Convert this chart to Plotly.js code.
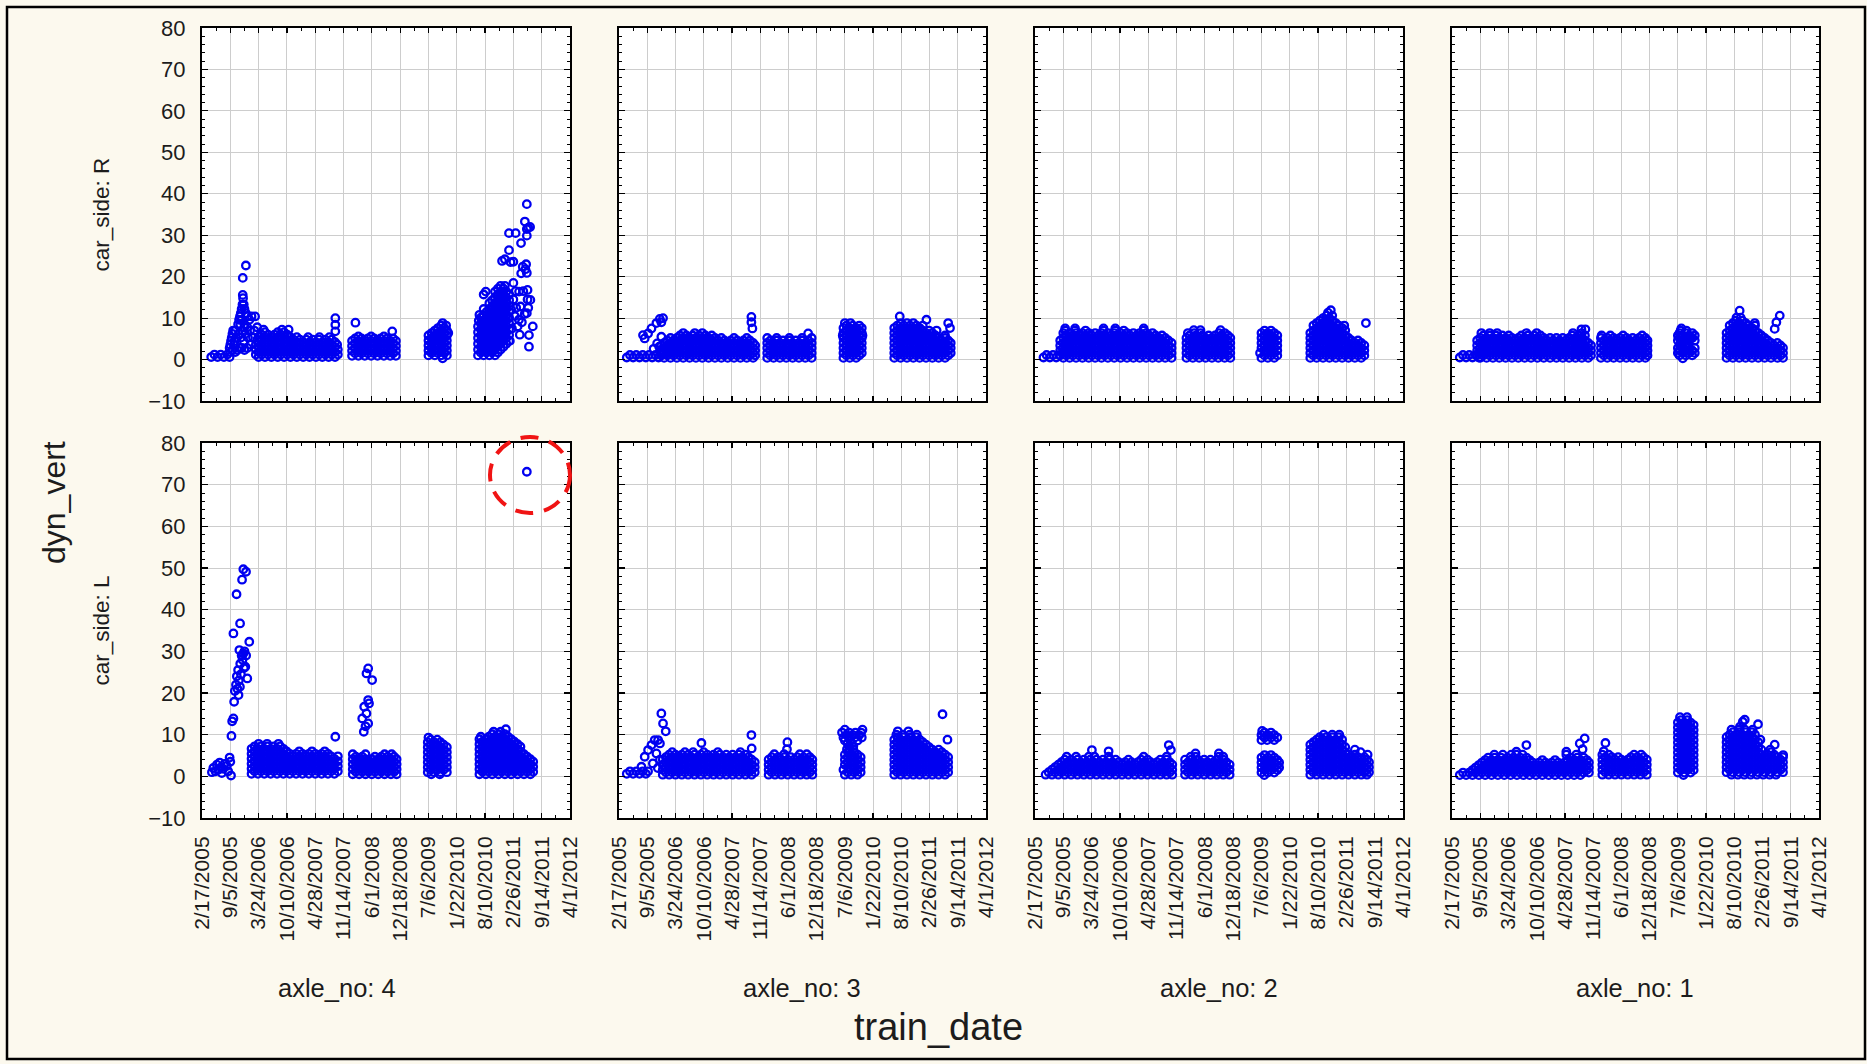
<!DOCTYPE html>
<html><head><meta charset="utf-8">
<script src="https://cdn.plot.ly/plotly-3.0.1.min.js"></script>
<style>html,body{margin:0;padding:0;background:#FCF9EE;}#chart{width:1867px;height:1064px;}</style>
</head><body><div id="chart"></div>
<script>
// x axis: days since 2/17/2005; tick labels every 200 days
const TICK_DAYS = [0,200,400,600,800,1000,1200,1400,1600,1800,2000,2200,2400,2600];
const TICK_LABELS = ['2/17/2005','9/5/2005','3/24/2006','10/10/2006','4/28/2007','11/14/2007','6/1/2008','12/18/2008','7/6/2009','1/22/2010','8/10/2010','2/26/2011','9/14/2011','4/1/2012'];
const AXLES = [4,3,2,1];
const SIDES = ['R','L'];
const Y_TICKS = [-10,0,10,20,30,40,50,60,70,80];

// each entry: [dyn_vert value, train_date day, day, ...]
const AXLE4_R = [
[0.6,65,110,155,195],[1.2,88,132,178],[1.8,200,235],[2.3,215,250,300],[2.8,195,265,280,320],[3.6,200,225,345],[4.5,205,230,295],[5.3,210,240,275,325,360],[6.2,215,260,305],[7.0,220,235,285,340,370],[7.8,300,320,390],[8.5,255,270,300],[9.6,262,280,335],[10.4,268,320,350,375],[11.2,274,310],[12.2,280,300],[13.3,286,295],[14.8,290],[15.6,288],[19.7,288],[22.7,310],
[0.6,400,445,490,535,580,625,670,715,760,805,850,895,940],
[1.2,380,422,467,512,557,602,647,692,737,782,827,872,917,960],
[1.8,400,445,490,535,580,625,670,715,760,805,850,895,940],
[2.4,380,422,467,512,557,602,647,692,737,782,827,872,917,960],
[3.0,400,445,490,535,580,625,670,715,760,805,850,895,940],
[3.6,380,422,467,512,557,602,647,692,737,782,827,872,917,955],
[4.2,400,445,490,535,580,625,670,715,760,805,850,895,940],
[4.8,390,422,467,512,557,602,647,692,737,782,827,872,917],
[5.4,400,445,490,535,580,625,670,750,830,900],
[6.0,422,467,512,557,602],[6.6,445,535,580],[7.2,435,565,612],
[10.0,942],[8.4,942],[6.8,942],
[0.9,1060,1105,1150,1195,1240,1285,1330,1370],
[1.5,1082,1127,1172,1217,1262,1307,1350],
[2.1,1060,1105,1150,1195,1240,1285,1330,1370],
[2.7,1082,1127,1172,1217,1262,1307,1350],
[3.3,1060,1105,1150,1195,1240,1285,1330,1370],
[3.9,1082,1127,1172,1217,1262,1307,1350],
[4.5,1060,1105,1150,1195,1240,1285,1330,1370],
[5.1,1082,1127,1172,1217,1262,1307,1350],
[5.6,1105,1195,1285],[8.9,1084],[6.8,1344],
[0.3,1700],[1.0,1600,1645,1690,1730],[1.6,1622,1667,1712],[2.2,1600,1645,1690,1730],[2.8,1622,1667,1712],[3.4,1600,1645,1690,1730],[4.0,1622,1667,1712],[4.6,1600,1645,1690,1730],[5.2,1622,1667,1712],[5.8,1600,1645,1690,1730],[6.4,1622,1667,1712,1740],[7.0,1645,1690,1730],[7.6,1667,1712],[8.2,1690,1725],[8.8,1700],
[1.0,1950,1990,2030,2070],[1.7,1970,2010,2050,2090],[2.4,1950,1990,2030,2070,2110],[3.1,1970,2010,2050,2090,2130],
[3.8,1950,1990,2030,2070,2110,2150],[4.5,1970,2010,2050,2090,2130,2170],[5.2,1950,1990,2030,2070,2110,2150],[5.9,1970,2010,2050,2090,2130,2170],
[6.6,1950,1990,2030,2070,2110,2150],[7.3,1970,2010,2050,2090,2130,2170],[8.0,1950,1990,2030,2070,2110,2150],[8.7,1970,2010,2050,2090,2130,2170],
[9.4,1955,1990,2030,2070,2110,2150],[10.1,1970,2010,2050,2090,2130,2170],[10.8,1960,1990,2030,2070,2110,2150],[11.5,2010,2050,2090,2130,2170],
[12.2,1990,2030,2070,2110,2150],[12.9,2050,2090,2130,2170],[13.6,2030,2070,2110,2150],[14.3,2050,2090,2130,2170],[15.0,2070,2110,2150],[15.7,1990,2090,2130,2170],[16.4,2005,2070,2110,2150],[17.1,2090,2130],[17.8,2110,2140],
[23.8,2120],[24.2,2140],[26.4,2169],[30.5,2169],[23.5,2180],[23.6,2200],[30.5,2216],[14.5,2200],[10.5,2210],[12.5,2220],[8.0,2230],[16.4,2240],[12.8,2250],[20.8,2255],[22.4,2266],[16.5,2270],[28.1,2254],[33.3,2281],[21.8,2285],[23.0,2290],[31.5,2295],[37.5,2295],[31.8,2305],[29.9,2295],[32.0,2318],[14.5,2300],[12.5,2305],[9.6,2239],[5.9,2310],[3.1,2310],[20.9,2295],[16.8,2300],[11.2,2295],[8.0,2337],[11.0,2280],[9.0,2260],[6.0,2245],[7.5,2190],[4.5,2175],[12.0,2185],[18.5,2200],[16.5,2215],[14.4,2320]
];
const AXLE3_R = [
[0.5,55,100,145,190,235,280],[1.1,78,122,168,212,258,300],
[5.1,182],[5.9,170],[6.3,206],[7.5,230],[8.8,265],[9.8,289],[10.0,312],[9.0,300],[5.5,300],[3.1,285],[3.9,270],[1.9,290],[2.6,245],
[0.4,320,365,410,455,500,545,590,635,680,725,770,815,860,905,950],
[1.0,300,342,387,432,477,522,567,612,657,702,747,792,837,882,927,965],
[1.6,320,365,410,455,500,545,590,635,680,725,770,815,860,905,950],
[2.2,300,342,387,432,477,522,567,612,657,702,747,792,837,882,927,965],
[2.8,320,365,410,455,500,545,590,635,680,725,770,815,860,905,950],
[3.4,300,342,387,432,477,522,567,612,657,702,747,792,837,882,927,965],
[4.0,320,365,410,455,500,545,590,635,680,725,770,815,860,905,950],
[4.6,342,387,432,477,522,567,612,657,702,747,792,837,882,927],
[5.2,365,410,455,500,545,590,635,680,725,815,905],
[5.8,432,477,522,567,612,657],[6.4,455,537,590],
[10.3,938],[9.0,938],[7.5,945],
[0.4,1050,1095,1140,1185,1230,1275,1320,1365],
[1.0,1072,1117,1162,1207,1252,1297,1342],
[1.6,1050,1095,1140,1185,1230,1275,1320,1365],
[2.2,1072,1117,1162,1207,1252,1297,1342],
[2.8,1050,1095,1140,1185,1230,1275,1320,1365],
[3.4,1072,1117,1162,1207,1252,1297,1342],
[4.0,1050,1095,1140,1185,1230,1275,1320,1365],
[4.6,1072,1117,1162,1207,1252,1297,1342],
[5.2,1050,1117,1207,1297,1365],[6.3,1340],
[0.4,1590,1635,1680],[1.0,1612,1657,1702],[1.6,1590,1635,1680,1720],[2.2,1612,1657,1702],[2.8,1590,1635,1680,1720],[3.4,1612,1657,1702],[4.0,1590,1635,1680,1720],[4.6,1612,1657,1702],[5.2,1590,1635,1680,1720],[5.8,1585,1612,1657,1702,1725],[6.4,1590,1635,1680,1720],[7.0,1612,1657,1702],[7.6,1590,1635,1680,1720],[8.2,1612,1657,1702],[8.8,1600,1640],
[0.4,1950,1995,2040,2085,2130,2175,2220,2265,2310],
[1.0,1972,2017,2062,2107,2152,2197,2242,2287,2332],
[1.6,1950,1995,2040,2085,2130,2175,2220,2265,2310,2350],
[2.2,1972,2017,2062,2107,2152,2197,2242,2287,2332],
[2.8,1950,1995,2040,2085,2130,2175,2220,2265,2310,2350],
[3.4,1972,2017,2062,2107,2152,2197,2242,2287,2332],
[4.0,1950,1995,2040,2085,2130,2175,2220,2265,2310,2350],
[4.6,1972,2017,2062,2107,2152,2197,2242,2287,2332],
[5.2,1950,1995,2040,2085,2130,2175,2220,2265,2310],
[5.8,1972,2017,2062,2107,2152,2197,2242,2310],
[6.4,1950,1995,2040,2085,2130,2175,2220],
[7.0,1972,2017,2062,2107,2152,2197,2250],
[7.6,1950,1995,2040,2085,2130,2345],
[8.2,1972,2017,2062,2107,2152],
[8.8,1995,2040,2085,2332],[9.6,2178],[10.4,1989]
];
const AXLE2_R = [
[0.5,60,105,150],[1.1,82,127,172],
[0.4,200,245,290,335,380,425,470,515,560,605,650,695,740,785,830,875,920,965],
[1.0,178,222,267,312,357,402,447,492,537,582,627,672,717,762,807,852,897,942],
[1.6,200,245,290,335,380,425,470,515,560,605,650,695,740,785,830,875,920,965],
[2.2,178,222,267,312,357,402,447,492,537,582,627,672,717,762,807,852,897,942],
[2.8,200,245,290,335,380,425,470,515,560,605,650,695,740,785,830,875,920,965],
[3.4,178,222,267,312,357,402,447,492,537,582,627,672,717,762,807,852,897,942],
[4.0,200,245,290,335,380,425,470,515,560,605,650,695,740,785,830,875,920,965],
[4.6,178,222,267,312,357,402,447,492,537,582,627,672,717,762,807,852,897,942],
[5.2,200,245,290,335,380,425,470,515,560,605,650,695,740,785,830,875,920],
[5.8,222,267,312,357,402,447,492,537,582,627,672,717,762,807,852,897],
[6.4,200,245,290,335,380,425,470,515,560,605,650,695,740,785,830],
[7.0,213,283,357,484,567,627,768],[7.5,213,283,484,567,768],
[0.4,1070,1115,1160,1205,1250,1295,1340,1380],
[1.0,1092,1137,1182,1227,1272,1317,1362],
[1.6,1070,1115,1160,1205,1250,1295,1340,1380],
[2.2,1092,1137,1182,1227,1272,1317,1362],
[2.8,1070,1115,1160,1205,1250,1295,1340,1380],
[3.4,1092,1137,1182,1227,1272,1317,1362],
[4.0,1070,1115,1160,1205,1250,1295,1340,1380],
[4.6,1092,1137,1182,1227,1272,1317,1362],
[5.2,1070,1115,1160,1205,1250,1295,1340,1380],
[5.8,1092,1137,1182,1227,1272,1317,1362],
[6.4,1080,1125,1170,1300,1340],[7.1,1122,1169,1311],
[0.4,1600,1645,1690],[1.0,1622,1667,1712],[1.6,1590,1645,1690],[2.2,1622,1667,1712],[2.8,1600,1645,1690],[3.4,1622,1667,1712],[4.0,1600,1645,1690],[4.6,1622,1667,1712],[5.2,1600,1645,1690],[5.8,1622,1667,1712],[6.4,1600,1645,1690],[7.0,1622,1667],
[0.4,1945,1990,2035,2080,2125,2170,2215,2260,2305],
[1.0,1967,2012,2057,2102,2147,2192,2237,2282,2327],
[1.6,1945,1990,2035,2080,2125,2170,2215,2260,2305],
[2.2,1967,2012,2057,2102,2147,2192,2237,2282,2327],
[2.8,1945,1990,2035,2080,2125,2170,2215,2260,2305],
[3.4,1967,2012,2057,2102,2147,2192,2237,2282,2327],
[4.0,1945,1990,2035,2080,2125,2170,2215,2260,2305],
[4.6,1967,2012,2057,2102,2147,2192,2237,2282],
[5.2,1945,1990,2035,2080,2125,2170,2215],
[5.8,1967,2012,2057,2102,2147,2192],
[6.4,1945,1990,2035,2080,2125,2170],
[7.0,1967,2012,2057,2102,2147,2192],
[7.6,1990,2035,2080,2125,2170],
[8.2,1967,2012,2057,2102,2147,2185],
[8.8,1990,2035,2080,2125],[9.4,2012,2057,2102],[10.0,2035,2080],[10.6,2060,2100],[11.3,2070],[11.9,2090],[8.8,2338]
];
const AXLE1_R = [
[0.5,55,100,145,190],[1.1,78,122,168],
[0.4,200,245,290,335,380,425,470,515,560,605,650,695,740,785,830,875,920,965],
[1.0,178,222,267,312,357,402,447,492,537,582,627,672,717,762,807,852,897,942,985],
[1.6,200,245,290,335,380,425,470,515,560,605,650,695,740,785,830,875,920,965],
[2.2,178,222,267,312,357,402,447,492,537,582,627,672,717,762,807,852,897,942,985],
[2.8,200,245,290,335,380,425,470,515,560,605,650,695,740,785,830,875,920,965],
[3.4,178,222,267,312,357,402,447,492,537,582,627,672,717,762,807,852,897,942,985],
[4.0,200,245,290,335,380,425,470,515,560,605,650,695,740,785,830,875,920,965],
[4.6,178,222,267,312,357,402,447,492,537,582,627,672,717,762,807,852,897,942],
[5.2,200,245,290,335,380,425,470,515,560,605,650,695,740,785,830,875,920],
[5.8,222,267,312,357,402,492,537,582,627,852,897,942],
[6.4,208,267,320,527,600,857,920],[7.3,917,945],
[0.4,1055,1100,1145,1190,1235,1280,1325,1370],
[1.0,1077,1122,1167,1212,1257,1302,1347,1385],
[1.6,1055,1100,1145,1190,1235,1280,1325,1370],
[2.2,1077,1122,1167,1212,1257,1302,1347,1385],
[2.8,1055,1100,1145,1190,1235,1280,1325,1370],
[3.4,1077,1122,1167,1212,1257,1302,1347,1385],
[4.0,1055,1100,1145,1190,1235,1280,1325,1370],
[4.6,1077,1122,1167,1212,1257,1302,1347,1385],
[5.2,1055,1100,1145,1190,1235,1280,1325,1370],
[5.8,1060,1122,1212,1347],
[0.3,1635],[1.0,1612,1657,1702],[1.6,1600,1635,1680,1720],[2.2,1612,1657,1702],[2.8,1600,1635,1680,1720],[3.4,1615,1660],[4.0,1620,1660],[4.6,1600,1640,1680,1720],[5.2,1612,1657,1702],[5.8,1600,1635,1680,1720],[6.4,1612,1657,1702],[7.0,1620,1660],[7.5,1625],
[0.4,1945,1990,2035,2080,2125,2170,2215,2260,2305,2345],
[1.0,1967,2012,2057,2102,2147,2192,2237,2282,2327],
[1.6,1945,1990,2035,2080,2125,2170,2215,2260,2305,2345],
[2.2,1967,2012,2057,2102,2147,2192,2237,2282,2327],
[2.8,1945,1990,2035,2080,2125,2170,2215,2260,2305,2345],
[3.4,1967,2012,2057,2102,2147,2192,2237,2282,2327],
[4.0,1945,1990,2035,2080,2125,2170,2215,2260,2305],
[4.6,1967,2012,2057,2102,2147,2192,2237],
[5.2,1945,1990,2035,2080,2125,2170,2215],
[5.8,1967,2012,2057,2102,2147,2192],
[6.4,1945,1990,2035,2080,2125,2170],
[7.0,1967,2012,2057,2102,2147],
[7.6,1990,2035,2080,2125],
[8.2,1967,2012,2057,2102,2147],
[8.8,1990,2035,2080,2145],[9.4,2012,2057],[10.1,2015,2045],[11.8,2038],[10.6,2322],[9.0,2298],[7.4,2286]
];
const AXLE4_L = [
[1.0,70],[2.0,80],[1.2,95],[2.8,105],[1.6,115],[3.3,125],[2.2,135],[0.8,140],[1.8,150],[3.0,160],[2.5,175],[1.2,185],[4.5,195],[0.2,205],[3.5,200],
[9.7,208],[13.2,213],[13.9,222],[17.9,227],[20.5,232],[22.0,240],[24.0,246],[21.0,250],[25.5,255],[23.0,260],[30.3,264],[27.0,270],[24.5,275],[29.0,280],[28.0,286],[29.5,292],[26.0,296],[30.0,300],[26.3,306],[29.0,312],[23.5,320],[32.3,334],[34.3,222],[43.7,244],[36.7,269],[47.2,283],[49.7,292],[49.1,311],[19.5,258],[21.5,268],
[0.6,350,395,440,485,530,575,620,665,710,755,800,845,890,935],
[1.2,372,417,462,507,552,597,642,687,732,777,822,867,912,960],
[1.8,350,395,440,485,530,575,620,665,710,755,800,845,890,935],
[2.4,372,417,462,507,552,597,642,687,732,777,822,867,912,960],
[3.0,350,395,440,485,530,575,620,665,710,755,800,845,890,935],
[3.6,372,417,462,507,552,597,642,687,732,777,822,867,912,960],
[4.2,350,395,440,485,530,575,620,665,710,755,800,845,890,935],
[4.8,372,417,462,507,552,597,642,687,732,777,822,867,912,960],
[5.4,350,395,440,485,530,575,620,665,710,755,800,845,890],
[6.0,372,417,462,507,552,597,687,777,867],
[6.6,350,395,440,485,530,575],[7.2,372,417,462,507,552],[7.8,400,460,540],[9.5,942],
[0.5,1065,1110,1155,1200,1245,1290,1335,1375],
[1.1,1087,1132,1177,1222,1267,1312,1357],
[1.7,1065,1110,1155,1200,1245,1290,1335,1375],
[2.3,1087,1132,1177,1222,1267,1312,1357],
[2.9,1065,1110,1155,1200,1245,1290,1335,1375],
[3.5,1087,1132,1177,1222,1267,1312,1357],
[4.1,1065,1110,1155,1200,1245,1290,1335,1375],
[4.7,1087,1132,1222,1267,1312,1357],
[5.3,1065,1155,1290,1340],
[10.7,1143],[12.7,1174],[13.9,1132],[15.1,1162],[16.7,1146],[17.5,1180],[18.3,1174],[24.7,1162],[25.9,1174],[23.1,1202],[12.0,1155],
[0.5,1620,1680],[1.0,1595,1640,1685,1730],[1.6,1617,1662,1707],[2.2,1595,1640,1685,1730],[2.8,1617,1662,1707],[3.4,1595,1640,1685,1730],[4.0,1617,1662,1707],[4.6,1595,1640,1685,1730],[5.2,1617,1662,1707],[5.8,1595,1640,1685,1730],[6.4,1617,1662,1707],[7.0,1595,1640,1685,1730],[7.6,1617,1662,1707],[8.2,1595,1640,1685],[8.8,1617,1662],[9.3,1600],
[0.5,1960,2005,2050,2095,2140,2185,2230,2275,2320],
[1.1,1982,2027,2072,2117,2162,2207,2252,2297,2340],
[1.7,1960,2005,2050,2095,2140,2185,2230,2275,2320],
[2.3,1982,2027,2072,2117,2162,2207,2252,2297,2340],
[2.9,1960,2005,2050,2095,2140,2185,2230,2275,2320],
[3.5,1982,2027,2072,2117,2162,2207,2252,2297,2340],
[4.1,1960,2005,2050,2095,2140,2185,2230,2275,2320],
[4.7,1982,2027,2072,2117,2162,2207,2252,2297],
[5.3,1960,2005,2050,2095,2140,2185,2230,2275],
[5.9,1982,2027,2072,2117,2162,2207,2252],
[6.5,1960,2005,2050,2095,2140,2185,2230],
[7.1,1982,2027,2072,2117,2162,2207,2250],
[7.7,1960,2005,2050,2095,2140,2185,2230],
[8.3,1982,2027,2072,2117,2162,2207],
[8.9,1960,2005,2050,2095,2140,2185],
[9.5,1970,2027,2072,2117,2162],[10.1,2050,2095,2140],[10.7,2060,2110],[11.3,2147],
[73.1,2295]
];
const AXLE3_L = [
[0.6,55,100,145,190],[1.2,78,122,168,206],
[2.3,159],[4.7,182],[6.3,206],[7.5,230],[8.7,253,277],[7.9,290],[5.5,265],[3.1,240],[15.1,300],[12.7,312],[10.8,331],[4.0,290],[2.0,275],
[0.4,310,355,400,445,490,535,580,625,670,715,760,805,850,895,940],
[1.0,332,377,422,467,512,557,602,647,692,737,782,827,872,917,962],
[1.6,310,355,400,445,490,535,580,625,670,715,760,805,850,895,940],
[2.2,332,377,422,467,512,557,602,647,692,737,782,827,872,917,962],
[2.8,310,355,400,445,490,535,580,625,670,715,760,805,850,895,940],
[3.4,332,377,422,467,512,557,602,647,692,737,782,827,872,917,962],
[4.0,310,355,400,445,490,535,580,625,670,715,760,805,850,895,940],
[4.6,332,377,422,467,512,557,602,647,692,737,782,827,872,917],
[5.2,355,400,445,490,535,580,625,670,715,760,805,850,895],
[5.8,377,467,525,600,700,860],[8.0,584],[9.9,938],[6.7,940],
[0.4,1060,1105,1150,1195,1240,1285,1330,1370],
[1.0,1082,1127,1172,1217,1262,1307,1352],
[1.6,1060,1105,1150,1195,1240,1285,1330,1370],
[2.2,1082,1127,1172,1217,1262,1307,1352],
[2.8,1060,1105,1150,1195,1240,1285,1330,1370],
[3.4,1082,1127,1172,1217,1262,1307,1352],
[4.0,1060,1105,1150,1195,1240,1285,1330,1370],
[4.6,1082,1127,1172,1217,1262,1307,1352],
[5.3,1100,1170,1281,1330],[8.2,1193],[6.5,1190],
[0.4,1600,1645,1690],[1.0,1622,1667,1712],[1.6,1590,1645,1690],[2.2,1622,1667,1712],[2.8,1600,1645,1690],[3.4,1622,1667,1712],[4.0,1600,1645,1690],[4.6,1622,1667,1712],[5.2,1600,1645,1690],[5.8,1622,1667],[6.5,1615,1660],[7.2,1630,1660],[7.9,1620,1650],[8.6,1600,1640,1690],[9.3,1590,1630,1670,1720],[9.9,1612,1657,1702],[10.5,1580,1630,1675,1715],[11.2,1600,1725],
[0.4,1950,1995,2040,2085,2130,2175,2220,2265,2310],
[1.0,1972,2017,2062,2107,2152,2197,2242,2287,2332],
[1.6,1950,1995,2040,2085,2130,2175,2220,2265,2310],
[2.2,1972,2017,2062,2107,2152,2197,2242,2287,2332],
[2.8,1950,1995,2040,2085,2130,2175,2220,2265,2310],
[3.4,1972,2017,2062,2107,2152,2197,2242,2287,2332],
[4.0,1950,1995,2040,2085,2130,2175,2220,2265,2310],
[4.6,1972,2017,2062,2107,2152,2197,2242,2287,2332],
[5.2,1950,1995,2040,2085,2130,2175,2220,2265,2310],
[5.8,1972,2017,2062,2107,2152,2197,2242,2287],
[6.4,1950,1995,2040,2085,2130,2175,2220,2265],
[7.0,1972,2017,2062,2107,2152,2197],
[7.6,1950,1995,2040,2085,2130,2175],
[8.2,1972,2017,2062,2107,2152],
[8.8,1950,1995,2040,2085,2130],
[9.4,1972,2017,2062,2107],[10.0,1965,2010,2060,2110],[10.8,1975,2050],[14.9,2292],[8.8,2327]
];
const AXLE2_L = [
[0.4,75,120,165,210,255,300,345,390,435,480,525,570,615,660,705,750,795,840,885,930,970],
[1.0,97,142,187,232,277,322,367,412,457,502,547,592,637,682,727,772,817,862,907,952],
[1.6,120,165,210,255,300,345,390,435,480,525,570,615,660,705,750,795,840,885,930,970],
[2.2,142,187,232,277,322,367,412,457,502,547,592,637,682,727,772,817,862,907,952],
[2.8,165,210,255,300,345,390,435,480,525,570,615,660,705,750,795,840,885,930,970],
[3.4,187,232,277,322,367,412,457,502,547,592,637,682,727,772,817,862,907,952],
[4.0,210,255,300,345,390,435,480,525,570,660,750,795,885,930],
[4.7,224,290,380,420,520,768,930],[6.3,402,960],[6.0,520],[7.5,945],
[0.4,1060,1105,1150,1195,1240,1285,1330,1375],
[1.0,1082,1127,1172,1217,1262,1307,1352],
[1.6,1060,1105,1150,1195,1240,1285,1330,1375],
[2.2,1082,1127,1172,1217,1262,1307,1352],
[2.8,1060,1105,1150,1195,1240,1285,1330,1375],
[3.4,1082,1127,1172,1217,1262,1307,1352],
[4.0,1060,1105,1150,1195,1240,1285,1330],
[4.7,1100,1134,1299,1330],[5.5,1134,1299],
[0.3,1620],[0.9,1600,1645,1690],[1.5,1622,1667,1712],[2.1,1600,1645,1690,1725],[2.7,1622,1667,1712],[3.3,1600,1645,1690,1725],[3.9,1622,1667,1712],[4.5,1600,1645,1690],[5.1,1622,1667],
[8.7,1600,1640,1690],[9.3,1622,1667,1712],[9.9,1600,1645,1690],[10.5,1622,1667],[10.9,1605],
[0.4,1945,1990,2035,2080,2125,2170,2215,2260,2305,2345],
[1.0,1967,2012,2057,2102,2147,2192,2237,2282,2327,2360],
[1.6,1945,1990,2035,2080,2125,2170,2215,2260,2305,2345],
[2.2,1967,2012,2057,2102,2147,2192,2237,2282,2327,2360],
[2.8,1945,1990,2035,2080,2125,2170,2215,2260,2305,2345],
[3.4,1967,2012,2057,2102,2147,2192,2237,2282,2327,2360],
[4.0,1945,1990,2035,2080,2125,2170,2215,2260,2305,2345],
[4.6,1967,2012,2057,2102,2147,2192,2237,2282,2327],
[5.2,1945,1990,2035,2080,2125,2170,2215,2260,2350],
[5.8,1967,2012,2057,2102,2147,2192,2300],
[6.4,1945,1990,2035,2080,2125,2170,2260],
[7.0,1967,2012,2057,2102,2147,2192],
[7.6,1945,1990,2035,2080,2125,2170],
[8.2,1967,2012,2057,2102,2147],
[8.8,1990,2035,2080,2125,2170],[9.4,2012,2057,2102,2147],[10.0,2040,2100,2150]
];
const AXLE1_L = [
[0.3,55,100,145,190,235,280,325,370,415,460,505,550,595,640,685,730,775,820,865,910],
[0.9,78,122,167,212,257,302,347,392,437,482,527,572,617,662,707,752,797,842,887,932,970],
[1.5,145,190,235,280,325,370,415,460,505,550,595,640,685,730,775,820,865,910,955],
[2.1,167,212,257,302,347,392,437,482,527,572,617,662,707,752,797,842,887,932,970],
[2.7,190,235,280,325,370,415,460,505,550,595,640,685,730,775,820,865,910,955],
[3.3,212,257,302,347,392,437,482,527,572,617,662,707,752,797,842,887,932,970],
[3.9,235,280,325,370,415,460,505,550,640,730,820,865,910,955],
[4.5,257,302,347,392,437,482,527,842,887,932],
[5.2,300,360,420,456,500,810,880],[5.9,456,810],
[7.5,527],[7.9,905],[9.1,940],[6.5,925],
[0.4,1065,1110,1155,1200,1245,1290,1335,1380],
[1.0,1087,1132,1177,1222,1267,1312,1357],
[1.6,1065,1110,1155,1200,1245,1290,1335,1380],
[2.2,1087,1132,1177,1222,1267,1312,1357],
[2.8,1065,1110,1155,1200,1245,1290,1335,1380],
[3.4,1087,1132,1177,1222,1267,1312,1357],
[4.0,1065,1110,1155,1200,1245,1290,1335,1380],
[4.6,1087,1132,1177,1267,1312,1357],
[5.2,1065,1110,1290,1340],[6.0,1075],[8.0,1087],
[0.3,1640],[0.9,1600,1645,1690],[1.5,1622,1667,1712],[2.1,1600,1645,1690],[2.7,1622,1667,1712],[3.3,1600,1645,1690],[3.9,1622,1667,1712],[4.5,1600,1645,1690],[5.1,1622,1667,1712],[5.7,1600,1645,1690],[6.3,1622,1667,1712],[6.9,1600,1645,1690],[7.5,1622,1667,1712],[8.1,1600,1645,1690],[8.7,1622,1667,1712],[9.3,1600,1645,1690],[9.9,1622,1667,1712],[10.5,1600,1645,1690],[11.1,1622,1667,1712],[11.7,1600,1645,1690],[12.3,1622,1667,1712],[12.9,1600,1645,1690],[13.5,1622,1667],[14.2,1615,1665],
[0.4,1980,2025,2070,2115,2160,2205,2250,2295],
[1.0,1945,1990,2035,2080,2125,2170,2215,2260,2305,2345],
[1.6,1967,2012,2057,2102,2147,2192,2237,2282,2327],
[2.2,1945,1990,2035,2080,2125,2170,2215,2260,2305,2345],
[2.8,1967,2012,2057,2102,2147,2192,2237,2282,2327],
[3.4,1945,1990,2035,2080,2125,2170,2215,2260,2305,2345],
[4.0,1967,2012,2057,2102,2147,2192,2237,2282,2327],
[4.6,1945,1990,2035,2080,2125,2170,2215,2260,2305,2345],
[5.2,1967,2012,2057,2102,2147,2192,2237,2282],
[5.8,1945,1990,2035,2080,2125,2170,2260],
[6.4,1967,2012,2057,2102,2147,2192,2255],
[7.0,1945,1990,2035,2080,2125,2170],
[7.6,1967,2012,2057,2102,2147,2286],
[8.2,1945,1990,2035,2080,2125,2170],
[8.8,1967,2012,2057,2102,2147,2185],
[9.4,1945,1990,2035,2080,2125],
[10.0,1967,2012,2057,2102,2147],
[10.6,1990,2035,2080,2125],
[11.2,1980,2030,2075,2130],[11.9,2040],[12.5,2168],[13.1,2060],[13.6,2074],[5.1,2346]
];
const PANEL_DATA = {'4R':AXLE4_R,'3R':AXLE3_R,'2R':AXLE2_R,'1R':AXLE1_R,'4L':AXLE4_L,'3L':AXLE3_L,'2L':AXLE2_L,'1L':AXLE1_L};

const W = 1867, H = 1064;
const COL_PX = [[202,570],[619,986],[1035,1403],[1452,1819]];
const ROW_PX = [[28,401],[443,818]];
const FONT = 'Liberation Sans, Arial, sans-serif';
const TXT = '#1c1c1c';

function expand(rows){
  const x=[], y=[];
  rows.forEach(r=>{ for(let i=1;i<r.length;i++){ x.push(r[i]); y.push(r[0]); } });
  return {x,y};
}

const traces = [];
const layout = {
  width:W, height:H, margin:{l:0,r:0,t:0,b:0},
  paper_bgcolor:'#FCF9EE', plot_bgcolor:'#FFFFFF', showlegend:false,
  font:{family:FONT, color:TXT},
  annotations:[], shapes:[]
};

let idx = 0;
SIDES.forEach((side, r)=>{
  AXLES.forEach((axle, c)=>{
    idx++;
    const xs = idx===1?'':String(idx);
    const d = expand(PANEL_DATA[axle+side]);
    traces.push({
      type:'scatter', mode:'markers', x:d.x, y:d.y,
      xaxis:'x'+xs, yaxis:'y'+xs, hoverinfo:'skip',
      marker:{symbol:'circle-open', size:7.5, color:'#0000F0', line:{width:2.3, color:'#0000F0'}}
    });
    layout['xaxis'+xs] = {
      domain:[COL_PX[c][0]/W, COL_PX[c][1]/W], anchor:'y'+xs,
      range:[0,2600], tickmode:'array', tickvals:TICK_DAYS, ticktext:TICK_LABELS,
      showticklabels: r===1, tickangle:-90, tickfont:{size:21, family:FONT, color:TXT},
      ticklabelstandoff:8,
      ticks:'inside', ticklen:5, tickwidth:1.2, tickcolor:'#000',
      minor:{ticks:'inside', ticklen:3, tickwidth:1, tickcolor:'#000', tickmode:'linear', tick0:100, dtick:200, showgrid:false},
      showline:true, linecolor:'#000', linewidth:2, mirror:'ticks',
      showgrid:true, gridcolor:'#CDCDCD', gridwidth:1, zeroline:false, fixedrange:true
    };
    layout['yaxis'+xs] = {
      domain:[1-ROW_PX[r][1]/H, 1-ROW_PX[r][0]/H], anchor:'x'+xs,
      range:[-10,80], tickmode:'array', tickvals:Y_TICKS,
      showticklabels: c===0, tickfont:{size:22, family:FONT, color:TXT},
      ticklabelstandoff:10,
      ticks:'inside', ticklen:6, tickwidth:1.2, tickcolor:'#000',
      minor:{ticks:'inside', ticklen:3, tickwidth:1, tickcolor:'#000', tickmode:'linear', tick0:0, dtick:2, showgrid:false},
      showline:true, linecolor:'#000', linewidth:2, mirror:'ticks',
      showgrid:true, gridcolor:'#CDCDCD', gridwidth:1, zeroline:false, fixedrange:true
    };
  });
});

// facet labels
const colCenters = [337, 802, 1219, 1635];
AXLES.forEach((axle,c)=>{
  layout.annotations.push({text:'axle_no: '+axle, xref:'paper', yref:'paper', x:colCenters[c]/W, y:1-988/H,
    xanchor:'center', yanchor:'middle', showarrow:false, font:{size:25.5, family:FONT, color:TXT}});
});
SIDES.forEach((side,r)=>{
  layout.annotations.push({text:'car_side: '+side, xref:'paper', yref:'paper', x:101/W, y:1-((ROW_PX[r][0]+ROW_PX[r][1])/2)/H,
    xanchor:'center', yanchor:'middle', textangle:-90, showarrow:false, font:{size:22.5, family:FONT, color:TXT}});
});
layout.annotations.push({text:'dyn_vert', xref:'paper', yref:'paper', x:54/W, y:1-503/H, xanchor:'center', yanchor:'middle',
  textangle:-90, showarrow:false, font:{size:32, family:FONT, color:TXT}});
layout.annotations.push({text:'train_date', xref:'paper', yref:'paper', x:938/W, y:1-1027/H, xanchor:'center', yanchor:'middle',
  showarrow:false, font:{size:38, family:FONT, color:TXT}});

// page frame
layout.shapes.push({type:'rect', xref:'paper', yref:'paper', x0:7/W, x1:1865/W, y0:1-1059/H, y1:1-7/H,
  line:{color:'#000', width:2.5}, fillcolor:'rgba(0,0,0,0)', layer:'below'});
// red dashed highlight circle
layout.shapes.push({type:'circle', xref:'paper', yref:'paper', xsizemode:'pixel', ysizemode:'pixel',
  xanchor:530/W, yanchor:1-475/H, x0:-40, x1:40, y0:-38, y1:38,
  line:{color:'#F01414', width:4, dash:'18px,11px'}, fillcolor:'rgba(0,0,0,0)', layer:'above'});

Plotly.newPlot('chart', traces, layout, {staticPlot:true, displayModeBar:false});
</script></body></html>
